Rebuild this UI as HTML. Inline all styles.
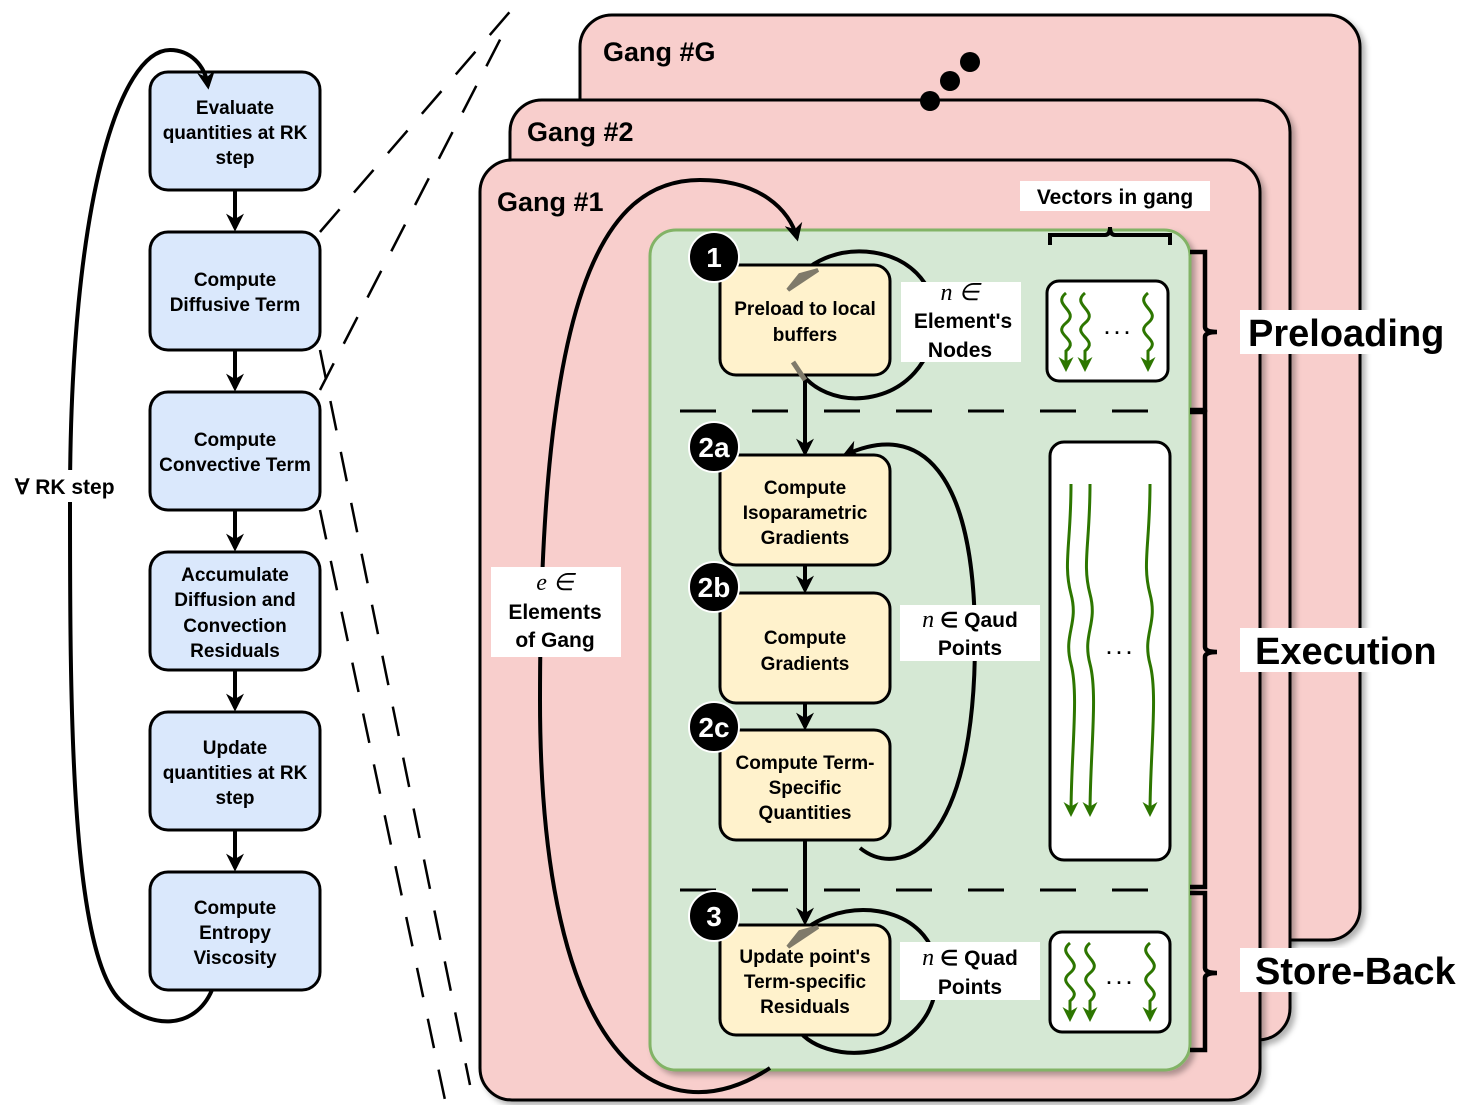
<!DOCTYPE html>
<html><head><meta charset="utf-8"><style>
html,body{margin:0;padding:0;background:#fff;}
svg{display:block;}
text{font-family:"Liberation Sans",sans-serif;font-weight:bold;fill:#000;}
.s{font-size:19px;}
.m{font-size:21px;}
.i{font-family:"Liberation Serif",serif;font-style:italic;font-weight:normal;font-size:24px;}
</style></head><body>
<svg width="1480" height="1105" viewBox="0 0 1480 1105" xmlns="http://www.w3.org/2000/svg">
<defs>
<marker id="a" viewBox="0 0 10 10" refX="8" refY="5" markerWidth="4.5" markerHeight="4.5" orient="auto-start-reverse"><path d="M0,0 L10,5 L0,10 L3,5 z" fill="#000"/></marker>
<marker id="g" viewBox="0 0 10 10" refX="8" refY="5" markerWidth="5" markerHeight="5" orient="auto"><path d="M0,0 L10,5 L0,10 L3,5 z" fill="#2d7600"/></marker>
<filter id="sh" x="-5%" y="-5%" width="110%" height="110%"><feDropShadow dx="4" dy="4" stdDeviation="3" flood-color="#000" flood-opacity="0.3"/></filter>
</defs>

<g stroke="#000" stroke-width="2.5" fill="none" stroke-dasharray="30,22">
<line x1="320" y1="232" x2="520" y2="0"/>
<line x1="320" y1="390" x2="505" y2="30"/>
<line x1="320" y1="350" x2="470" y2="1085"/>
<line x1="320" y1="510" x2="445" y2="1100"/>
</g>

<rect x="580" y="15" width="780" height="925" rx="32" fill="#f8cecc" stroke="#000" stroke-width="3" filter="url(#sh)"/>
<text x="603" y="61" style="font-size:27px">Gang #G</text>
<rect x="510" y="100" width="780" height="940" rx="32" fill="#f8cecc" stroke="#000" stroke-width="3" filter="url(#sh)"/>
<text x="527" y="141" style="font-size:27px">Gang #2</text>
<rect x="480" y="160" width="780" height="940" rx="32" fill="#f8cecc" stroke="#000" stroke-width="3" filter="url(#sh)"/>
<text x="497" y="211" style="font-size:27px">Gang #1</text>
<circle cx="930" cy="101" r="10"/><circle cx="950" cy="81" r="10"/><circle cx="970" cy="62" r="10"/>

<rect x="650" y="230" width="540" height="840" rx="26" fill="#d5e8d4" stroke="#82b366" stroke-width="3" filter="url(#sh)"/>

<g stroke="#000" stroke-width="3" stroke-dasharray="36,36">
<line x1="680" y1="411" x2="1160" y2="411"/>
<line x1="680" y1="890" x2="1160" y2="890"/>
</g>

<path d="M770,1068 C660,1140 540,1060 540,700 C540,300 600,180 700,180 C760,180 790,210 797,238" fill="none" stroke="#000" stroke-width="4" marker-end="url(#a)"/>
<rect x="491" y="567" width="130" height="90" fill="#fff"/>
<text class="i" x="555" y="590" text-anchor="middle">e ∈</text>
<text class="m" x="555" y="619" text-anchor="middle">Elements</text>
<text class="m" x="555" y="647" text-anchor="middle">of Gang</text>

<path d="M795,362 C820,420 930,410 935,320 C935,240 820,230 790,290" fill="none" stroke="#000" stroke-width="4"/>
<path d="M860,848 C900,880 975,850 975,640 C975,470 920,420 845,455" fill="none" stroke="#000" stroke-width="4" marker-end="url(#a)"/>
<path d="M795,1025 C820,1070 935,1065 937,975 C937,900 830,890 790,945" fill="none" stroke="#000" stroke-width="4"/>

<g stroke="#000" stroke-width="4" marker-end="url(#a)">
<line x1="805" y1="375" x2="805" y2="453"/>
<line x1="805" y1="565" x2="805" y2="590"/>
<line x1="805" y1="703" x2="805" y2="727"/>
<line x1="805" y1="840" x2="805" y2="922"/>
</g>

<g fill="#fff2cc" stroke="#000" stroke-width="3">
<rect x="720" y="265" width="170" height="110" rx="16"/>
<rect x="720" y="455" width="170" height="110" rx="16"/>
<rect x="720" y="593" width="170" height="110" rx="16"/>
<rect x="720" y="730" width="170" height="110" rx="16"/>
<rect x="720" y="925" width="170" height="110" rx="16"/>
</g>
<path d="M793,362 L805,380" stroke="#7f7a6a" stroke-width="5"/>
<path d="M788,290 L818,270 L800,275 z" fill="#7f7a6a" stroke="#7f7a6a" stroke-width="4"/>
<path d="M788,947 L818,927 L800,932 z" fill="#7f7a6a" stroke="#7f7a6a" stroke-width="4"/>
<g class="s" text-anchor="middle">
<text x="805" y="315">Preload to local</text><text x="805" y="341">buffers</text>
<text x="805" y="494">Compute</text><text x="805" y="519">Isoparametric</text><text x="805" y="544">Gradients</text>
<text x="805" y="644">Compute</text><text x="805" y="670">Gradients</text>
<text x="805" y="769">Compute Term-</text><text x="805" y="794">Specific</text><text x="805" y="819">Quantities</text>
<text x="805" y="963">Update point's</text><text x="805" y="988">Term-specific</text><text x="805" y="1013">Residuals</text>
</g>
<g stroke="#fff" stroke-width="2">
<circle cx="714" cy="257" r="25"/><circle cx="714" cy="447" r="25"/><circle cx="714" cy="587" r="25"/><circle cx="714" cy="727" r="25"/><circle cx="714" cy="916" r="25"/>
</g>
<g text-anchor="middle" style="font-size:28px">
<text x="714" y="267" style="fill:#fff">1</text>
<text x="714" y="457" style="fill:#fff">2a</text>
<text x="714" y="597" style="fill:#fff">2b</text>
<text x="714" y="737" style="fill:#fff">2c</text>
<text x="714" y="926" style="fill:#fff">3</text>
</g>

<rect x="901" y="282" width="120" height="80" fill="#fff"/>
<text class="i" x="960" y="300" text-anchor="middle">n ∈</text>
<text class="m" x="963" y="328" text-anchor="middle">Element's</text>
<text class="m" x="960" y="357" text-anchor="middle">Nodes</text>
<rect x="900" y="605" width="140" height="56" fill="#fff"/>
<text class="m" x="970" y="627" text-anchor="middle"><tspan class="i">n</tspan> ∈ Qaud</text>
<text class="m" x="970" y="655" text-anchor="middle">Points</text>
<rect x="900" y="942" width="140" height="58" fill="#fff"/>
<text class="m" x="970" y="965" text-anchor="middle"><tspan class="i">n</tspan> ∈ Quad</text>
<text class="m" x="970" y="994" text-anchor="middle">Points</text>

<g fill="#fff" stroke="#000" stroke-width="3">
<rect x="1047" y="281" width="121" height="100" rx="12"/>
<rect x="1050" y="442" width="120" height="418" rx="14"/>
<rect x="1050" y="932" width="120" height="100" rx="12"/>
</g>
<g stroke="#2d7600" stroke-width="3" fill="none" marker-end="url(#g)">
<path d="M1066,293 c-15,12 15,18 0,30 c-15,12 15,16 0,28 l0,18"/>
<path d="M1085,293 c-15,12 15,18 0,30 c-15,12 15,16 0,28 l0,18"/>
<path d="M1148,293 c-15,12 15,18 0,30 c-15,12 15,16 0,28 l0,18"/>
<path d="M1071,484 c0,60 -8,80 0,110 c8,30 -8,40 0,70 c8,30 0,90 0,150"/>
<path d="M1090,484 c0,60 -8,80 0,110 c8,30 -8,40 0,70 c8,30 0,90 0,150"/>
<path d="M1150,484 c0,60 -8,80 0,110 c8,30 -8,40 0,70 c8,30 0,90 0,150"/>
<path d="M1070,943 c-15,12 15,18 0,30 c-15,12 15,16 0,28 l0,18"/>
<path d="M1090,943 c-15,12 15,18 0,30 c-15,12 15,16 0,28 l0,18"/>
<path d="M1150,943 c-15,12 15,18 0,30 c-15,12 15,16 0,28 l0,18"/>
</g>
<text x="1117" y="334" text-anchor="middle" style="font-size:18px">. . .</text>
<text x="1119" y="654" text-anchor="middle" style="font-size:18px">. . .</text>
<text x="1119" y="984" text-anchor="middle" style="font-size:18px">. . .</text>

<path d="M1050,245 l0,-10 l55,0 q5,0 5,-8 q0,8 5,8 l55,0 l0,10" fill="none" stroke="#000" stroke-width="4"/>
<rect x="1020" y="181" width="190" height="30" fill="#fff"/>
<text x="1115" y="204" text-anchor="middle" style="font-size:21px">Vectors in gang</text>

<g fill="none" stroke="#000" stroke-width="4.5">
<path d="M1190,252 l15,0 l0,75 q0,5 12,5 q-12,0 -12,5 l0,73 l-15,0"/>
<path d="M1190,412 l15,0 l0,235 q0,5 12,5 q-12,0 -12,5 l0,230 l-15,0"/>
<path d="M1190,893 l15,0 l0,75 q0,5 12,5 q-12,0 -12,5 l0,72 l-15,0"/>
</g>
<rect x="1240" y="310" width="212" height="44" fill="#fff"/>
<text x="1248" y="346" style="font-size:38px">Preloading</text>
<rect x="1240" y="628" width="205" height="44" fill="#fff"/>
<text x="1255" y="664" style="font-size:38px">Execution</text>
<rect x="1240" y="948" width="226" height="44" fill="#fff"/>
<text x="1255" y="984" style="font-size:38px">Store-Back</text>

<g stroke="#000" stroke-width="4" marker-end="url(#a)">
<line x1="235" y1="190" x2="235" y2="228"/>
<line x1="235" y1="350" x2="235" y2="388"/>
<line x1="235" y1="510" x2="235" y2="548"/>
<line x1="235" y1="670" x2="235" y2="708"/>
<line x1="235" y1="830" x2="235" y2="868"/>
</g>
<g fill="#dae8fc" stroke="#000" stroke-width="3">
<rect x="150" y="72" width="170" height="118" rx="18"/>
<rect x="150" y="232" width="170" height="118" rx="18"/>
<rect x="150" y="392" width="170" height="118" rx="18"/>
<rect x="150" y="552" width="170" height="118" rx="18"/>
<rect x="150" y="712" width="170" height="118" rx="18"/>
<rect x="150" y="872" width="170" height="118" rx="18"/>
</g>
<path d="M212,990 C195,1030 150,1030 120,1000 C70,950 70,700 70,500 C70,200 120,50 170,50 C190,50 205,65 208,86" fill="none" stroke="#000" stroke-width="4" marker-end="url(#a)"/>
<rect x="10" y="470" width="120" height="32" fill="#fff"/>
<text x="15" y="494" class="m">∀ RK step</text>
<g class="s" text-anchor="middle">
<text x="235" y="114">Evaluate</text><text x="235" y="139">quantities at RK</text><text x="235" y="164">step</text>
<text x="235" y="286">Compute</text><text x="235" y="311">Diffusive Term</text>
<text x="235" y="446">Compute</text><text x="235" y="471">Convective Term</text>
<text x="235" y="581">Accumulate</text><text x="235" y="606">Diffusion and</text><text x="235" y="632">Convection</text><text x="235" y="657">Residuals</text>
<text x="235" y="754">Update</text><text x="235" y="779">quantities at RK</text><text x="235" y="804">step</text>
<text x="235" y="914">Compute</text><text x="235" y="939">Entropy</text><text x="235" y="964">Viscosity</text>
</g>
</svg>
</body></html>
